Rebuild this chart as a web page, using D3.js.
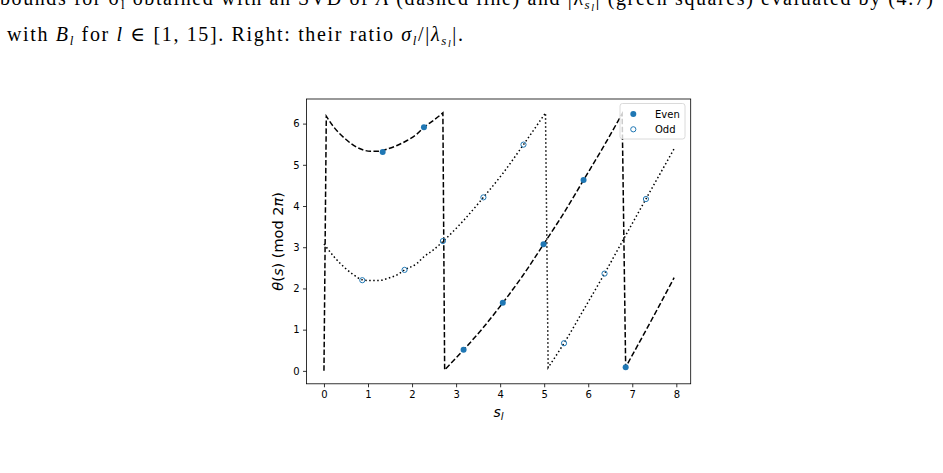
<!DOCTYPE html>
<html><head><meta charset="utf-8">
<script src="https://cdn.jsdelivr.net/npm/d3@7"></script>
<style>body{margin:0;background:#fff}svg{display:block}</style>
</head><body>
<svg id="c" width="943" height="473"></svg>
<script>
// Dashed curve (even)
const evenCurveS = [0, 0.053, 0.22, 0.333, 0.485, 0.674, 0.864, 1.053, 1.242, 1.432, 1.659, 1.886, 2.114, 2.27, 2.49, 2.70, 2.74, 3.17, 3.60, 4.06, 4.50, 4.985, 5.44, 5.894, 6.33, 6.77, 6.85, 7.40, 7.95];
const evenCurveT = [0, 6.18, 5.92, 5.78, 5.63, 5.47, 5.37, 5.33, 5.33, 5.38, 5.47, 5.59, 5.75, 5.91, 6.08, 6.26, 0.024, 0.51, 1.03, 1.65, 2.29, 3.07, 3.82, 4.63, 5.41, 6.24, 0.09, 1.16, 2.26];
// Dotted curve (odd)
const oddCurveS = [0, 0.22, 0.485, 0.674, 0.87, 1.053, 1.242, 1.432, 1.659, 1.83, 2.114, 2.27, 2.49, 2.70, 3.17, 3.62, 4.06, 4.53, 5.03, 5.09, 5.45, 5.90, 6.37, 6.82, 7.31, 7.96];
const oddCurveT = [3.08, 2.78, 2.49, 2.33, 2.21, 2.19, 2.19, 2.24, 2.33, 2.45, 2.61, 2.77, 2.94, 3.14, 3.65, 4.21, 4.79, 5.49, 6.26, 0.08, 0.67, 1.49, 2.36, 3.23, 4.17, 5.41];
// Scatter points
const evenS = [1.333, 2.27, 3.17, 4.06, 4.985, 5.894, 6.85];
const evenT = [5.31, 5.91, 0.51, 1.65, 3.07, 4.63, 0.09];
const oddS = [0.87, 1.83, 2.70, 3.62, 4.53, 5.45, 6.37, 7.31];
const oddT = [2.20, 2.45, 3.15, 4.21, 5.49, 0.67, 2.36, 4.17];
// Ticks and labels
const xTicks = [0, 1, 2, 3, 4, 5, 6, 7, 8];
const yTicks = [0, 1, 2, 3, 4, 5, 6];
const legendLabels = ["Even", "Odd"];

const svg = d3.select("#c");
const blue = "#1f77b4";
const L = 306.5, R = 690.7, T = 99, B = 383.8;
const x = d3.scaleLinear().domain([-0.3965, 8.3265]).range([L, R]);
const y = d3.scaleLinear().domain([-0.314, 6.597]).range([B, T]);

// caption (first line partially cut at top, as in the source)
const capFont = "'Liberation Serif', 'DejaVu Serif', serif";
const cap = svg.append("g").attr("font-family", capFont).attr("font-size", 20).attr("fill", "#000");
const c1 = cap.append("text").attr("x", 0).attr("y", 4.5);
c1.append("tspan").text("bounds for σ");
c1.append("tspan").attr("font-size", 13).attr("dy", 4).text("l");
c1.append("tspan").attr("dy", -4).text(" obtained with an SVD of ");
c1.append("tspan").attr("font-style","italic").text("A");
c1.append("tspan").text(" (dashed line) and |λ");
c1.append("tspan").attr("font-size", 13).attr("dy", 4).attr("font-style","italic").text("s");
c1.append("tspan").attr("font-size", 10).attr("dy", 2).attr("font-style","italic").text("l");
c1.append("tspan").attr("dy", -6).text("| (green squares) evaluated by (4.7)");
c1.attr("textLength", 933).attr("lengthAdjust", "spacing");

const c2 = cap.append("text").attr("x", 7).attr("y", 41);
c2.append("tspan").text("with ");
c2.append("tspan").attr("font-style","italic").text("B");
c2.append("tspan").attr("font-size", 13).attr("dy", 4).attr("font-style","italic").text("l");
c2.append("tspan").attr("dy", -4).text(" for ");
c2.append("tspan").attr("font-style","italic").text("l");
c2.append("tspan").text(" ∈ [1, 15]. Right: their ratio ");
c2.append("tspan").attr("font-style","italic").text("σ");
c2.append("tspan").attr("font-size", 13).attr("dy", 4).attr("font-style","italic").text("l");
c2.append("tspan").attr("dy", -4).text("/|");
c2.append("tspan").attr("font-style","italic").text("λ");
c2.append("tspan").attr("font-size", 13).attr("dy", 4).attr("font-style","italic").text("s");
c2.append("tspan").attr("font-size", 10).attr("dy", 2).attr("font-style","italic").text("l");
c2.append("tspan").attr("dy", -6).text("|.");
c2.attr("textLength", 456).attr("lengthAdjust", "spacing");

// curves: smooth pieces joined by straight wrap-around jumps
const seg = d3.line().x(d => x(d[0])).y(d => y(d[1])).curve(d3.curveMonotoneX);
function wrapPath(S, Tv) {
  const pts = S.map((s, i) => [s, Tv[i]]);
  const segs = []; let cur = [pts[0]];
  for (let i = 1; i < pts.length; i++) {
    if (Math.abs(pts[i][1] - pts[i - 1][1]) > 3) { segs.push(cur); cur = [pts[i]]; }
    else cur.push(pts[i]);
  }
  segs.push(cur);
  let d = "";
  segs.forEach((sg, k) => {
    let p = sg.length > 1 ? seg(sg) : `M${x(sg[0][0])},${y(sg[0][1])}`;
    if (k > 0) p = "L" + p.slice(1);
    d += p;
  });
  return d;
}
const plot = svg.append("g");
plot.append("path").attr("d", wrapPath(evenCurveS, evenCurveT)).attr("fill", "none").attr("stroke", "#000")
  .attr("stroke-width", 1.5).attr("stroke-dasharray", "5.5,2.4");
plot.append("path").attr("d", wrapPath(oddCurveS, oddCurveT)).attr("fill", "none").attr("stroke", "#000")
  .attr("stroke-width", 1.5).attr("stroke-dasharray", "1.5,2.5");

// points
plot.selectAll(".ev").data(evenS.map((s, i) => [s, evenT[i]])).join("circle")
  .attr("cx", d => x(d[0])).attr("cy", d => y(d[1])).attr("r", 3).attr("fill", blue);
plot.selectAll(".od").data(oddS.map((s, i) => [s, oddT[i]])).join("circle")
  .attr("cx", d => x(d[0])).attr("cy", d => y(d[1])).attr("r", 2.6).attr("fill", "none")
  .attr("stroke", blue).attr("stroke-width", 1);

// axes
const fontAx = "'DejaVu Sans', sans-serif";
const xa = svg.append("g").attr("transform", `translate(0,${B})`)
  .call(d3.axisBottom(x).tickValues(xTicks).tickSize(3.5).tickPadding(3.5).tickFormat(d3.format("d")));
const ya = svg.append("g").attr("transform", `translate(${L},0)`)
  .call(d3.axisLeft(y).tickValues(yTicks).tickSize(3.5).tickPadding(3.5).tickFormat(d3.format("d")));
[xa, ya].forEach(g => {
  g.select(".domain").remove();
  g.selectAll("line").attr("stroke", "#000").attr("stroke-width", 0.8);
  g.selectAll("text").attr("font-family", fontAx).attr("font-size", 10).attr("fill", "#000");
});
svg.append("rect").attr("x", L).attr("y", T).attr("width", R - L).attr("height", B - T)
  .attr("fill", "none").attr("stroke", "#000").attr("stroke-width", 0.8);

// axis labels
const xl = svg.append("text").attr("x", (L + R) / 2).attr("y", 417).attr("text-anchor", "middle")
  .attr("font-family", fontAx).attr("font-size", 14);
xl.append("tspan").attr("font-style", "italic").text("s");
xl.append("tspan").attr("font-style", "italic").attr("font-size", 10).attr("dy", 3).text("l");

const yl = svg.append("text").attr("transform", `translate(283,${(T + B) / 2}) rotate(-90)`)
  .attr("text-anchor", "middle").attr("font-family", fontAx).attr("font-size", 14.5);
yl.append("tspan").attr("font-style", "italic").text("θ");
yl.append("tspan").text("(");
yl.append("tspan").attr("font-style", "italic").text("s");
yl.append("tspan").text(") (mod 2");
yl.append("tspan").attr("font-style", "italic").text("π");
yl.append("tspan").text(")");

// legend
const lg = svg.append("g");
lg.append("rect").attr("x", 620).attr("y", 103.5).attr("width", 65).attr("height", 35.5).attr("rx", 2.5)
  .attr("fill", "#fff").attr("fill-opacity", 0.8).attr("stroke", "#d0d0d0").attr("stroke-width", 0.8);
legendLabels.forEach((lab, i) => {
  const yy = 114 + i * 15.3;
  const c = lg.append("circle").attr("cx", 633.3).attr("cy", yy).attr("r", i === 0 ? 3 : 2.6);
  if (i === 0) c.attr("fill", blue); else c.attr("fill", "none").attr("stroke", blue).attr("stroke-width", 1);
  lg.append("text").attr("x", 655).attr("y", yy + 3.6).attr("font-family", fontAx).attr("font-size", 10)
    .attr("fill", "#000").text(lab);
});
</script>
</body></html>
